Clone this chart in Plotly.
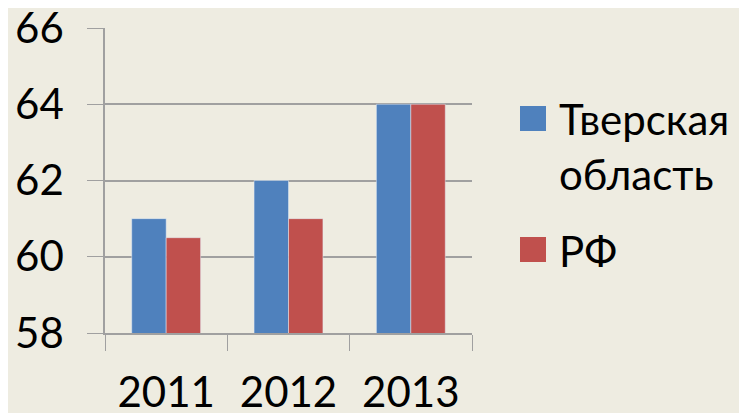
import plotly.graph_objects as go

years = ["2011", "2012", "2013"]
tver = [61, 62, 64]
rf = [60.5, 61, 64]
series_names = ["Тверская<br>область", "РФ"]
colors = ["#4F81BD", "#C0504D"]
y_ticks = [58, 60, 62, 64, 66]

BG = "#EEECE1"
GRID = "#A0A0A0"
FONT = "Lato"
FS = 42

fig = go.Figure()
fig.add_trace(go.Bar(x=years, y=tver, marker_color=colors[0], name=series_names[0], showlegend=False))
fig.add_trace(go.Bar(x=years, y=rf, marker_color=colors[1], name=series_names[1], showlegend=False))

W, H = 747, 413
OFF = 8  # page body offset
L, R, T, B = 105 - OFF, 472 - OFF, 28 - OFF, 333 - OFF


def px(x):
    return (x - OFF - L) / (R - L)


def py(y):
    return (B - (y - OFF)) / (B - T)


# manual legend (large square symbols)
leg_rows = [(106, 131), (237, 262)]
for (y0, y1), c in zip(leg_rows, colors):
    fig.add_shape(type="rect", xref="paper", yref="paper",
                  x0=px(520), x1=px(546), y0=py(y1), y1=py(y0),
                  fillcolor=c, line_width=0)

fig.add_annotation(xref="paper", yref="paper", x=px(557), y=py(92),
                   xanchor="left", yanchor="top", align="left", showarrow=False,
                   text=series_names[0], font=dict(family=FONT, size=FS, color="black"))
fig.add_annotation(xref="paper", yref="paper", x=px(557), y=py(224),
                   xanchor="left", yanchor="top", align="left", showarrow=False,
                   text=series_names[1], font=dict(family=FONT, size=FS, color="black"))

fig.update_layout(
    width=W, height=H,
    paper_bgcolor=BG, plot_bgcolor=BG,
    margin=dict(l=L, r=W - R, t=T, b=H - B),
    barmode="group", bargap=0.437, bargroupgap=0,
    font=dict(family=FONT, size=FS, color="black"),
    showlegend=False,
)
fig.update_xaxes(type="category", tickson="boundaries", ticks="outside", ticklen=16,
                 tickcolor=GRID, showline=True, linecolor=GRID, linewidth=1.5,
                 showgrid=False, ticklabelstandoff=22, automargin=False,
                 ticklabeloverflow="allow")
fig.update_yaxes(range=[58, 66], tickvals=y_ticks, ticks="outside", ticklen=16,
                 tickcolor=GRID, showline=True, linecolor=GRID, linewidth=1.5,
                 showgrid=True, gridcolor=GRID, gridwidth=1.5, zeroline=False,
                 ticklabelstandoff=15, automargin=False, ticklabeloverflow="allow")

fig.write_html("out.html")
